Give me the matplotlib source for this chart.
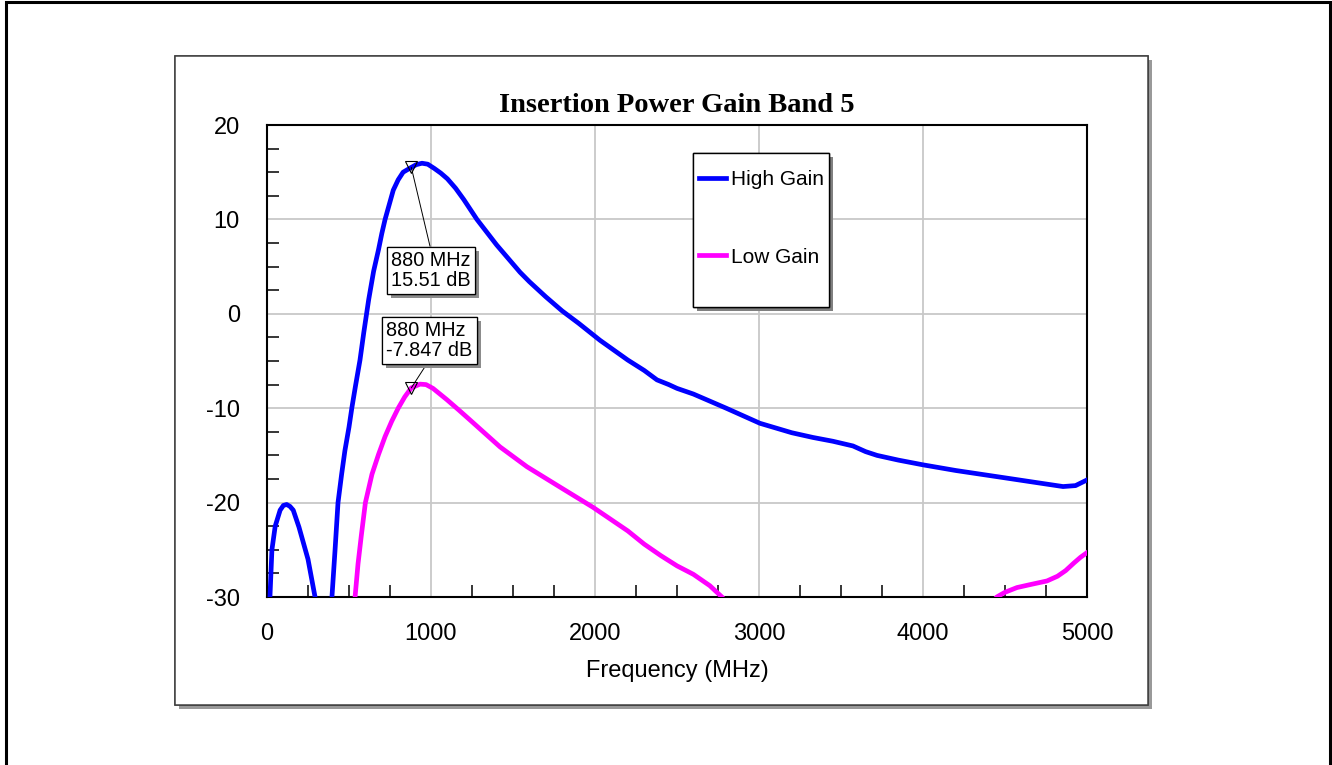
import numpy as np
import matplotlib.pyplot as plt
from matplotlib.patches import Rectangle
from matplotlib.ticker import MultipleLocator
import matplotlib.patheffects as pe

plt.rcParams['font.family'] = ['Liberation Sans', 'DejaVu Sans']
plt.rcParams['axes.unicode_minus'] = False

# High gain trace (MHz, dB)
freq_hi = [10, 18, 30, 50, 80, 100, 120, 140, 160, 195, 250, 293, 305, 385, 396, 415, 433, 455,
           475, 500, 518, 540, 567, 590, 620, 650, 680, 700, 720, 770, 800, 830, 880, 910, 945,
           980, 1020, 1060, 1100, 1150, 1200, 1280, 1400, 1543, 1600, 1700, 1800, 1900, 2030,
           2200, 2300, 2378, 2450, 2500, 2600, 2800, 3006, 3200, 3329, 3450, 3573, 3650, 3720,
           3850, 4000, 4200, 4470, 4700, 4854, 4930, 5000]
gain_hi = [-34, -30, -25.0, -22.5, -20.8, -20.3, -20.2, -20.4, -20.8, -22.6, -26.0, -30.0, -31.2,
           -31.2, -30.0, -25.0, -20.0, -17.0, -14.5, -12.0, -9.9, -7.6, -4.9, -2.0, 1.5, 4.5,
           6.8, 8.5, 10.0, 13.1, 14.2, 15.0, 15.51, 15.8, 15.95, 15.85, 15.4, 14.9, 14.3, 13.3,
           12.1, 10.0, 7.3, 4.4, 3.4, 1.8, 0.3, -1.0, -2.8, -4.9, -6.0, -7.0, -7.5, -7.9, -8.5,
           -10.0, -11.6, -12.6, -13.1, -13.5, -14.0, -14.6, -15.0, -15.5, -16.0, -16.6, -17.3,
           -17.9, -18.3, -18.2, -17.6]

# Low gain trace (MHz, dB)
freq_lo = [480, 537, 555, 575, 600, 640, 680, 720, 760, 800, 840, 880, 933, 970, 1012, 1097, 1170,
           1238, 1421, 1585, 1800, 1988, 2200, 2300, 2400, 2500, 2600, 2700, 2774, 2830, 4390,
           4450, 4500, 4573, 4650, 4756, 4820, 4870, 4920, 4960, 5000]
gain_lo = [-36, -30.0, -26.5, -23.5, -20.0, -17.0, -14.9, -13.0, -11.4, -10.0, -8.8, -7.847, -7.45,
           -7.5, -7.9, -9.1, -10.2, -11.25, -14.1, -16.2, -18.5, -20.5, -23.0, -24.4, -25.6,
           -26.7, -27.6, -28.8, -30.0, -31.2, -31.2, -30.0, -29.5, -29.0, -28.7, -28.3, -27.8,
           -27.2, -26.4, -25.8, -25.3]

# marker readouts
mark_freq = [880, 880]
mark_gain = [15.51, -7.847]
mark_text = ['880 MHz\n15.51 dB', '880 MHz\n-7.847 dB']

xticks = [0, 1000, 2000, 3000, 4000, 5000]
yticks = [-30, -20, -10, 0, 10, 20]

fig = plt.figure(figsize=(13.32, 7.65), dpi=100)
W, H = 1332, 765

# outer frame
fig.patches.append(Rectangle((6 / W, -0.02), 1324 / W, 1.02 - 2 / H, transform=fig.transFigure,
                             fill=False, ec='black', lw=2.2, zorder=-2))
# chart panel with drop shadow
panel = Rectangle((175 / W, 1 - 705 / H), 973 / W, 649 / H, transform=fig.transFigure,
                  fc='white', ec='#404040', lw=1.1, zorder=-1)
panel.set_path_effects([pe.withSimplePatchShadow(offset=(3, -3), shadow_rgbFace='0.6', alpha=1),
                        pe.Normal()])
fig.patches.append(panel)

ax = fig.add_axes([267 / W, 1 - 597 / H, 820 / W, 472 / H])
ax.plot(freq_hi, gain_hi, color='#0000ff', lw=3.4, label='High Gain', zorder=3,
        solid_joinstyle='round')
ax.plot(freq_lo, gain_lo, color='#ff00ff', lw=3.4, label='Low Gain', zorder=3,
        solid_joinstyle='round')
ax.plot(mark_freq, mark_gain, 'v', ms=9, mfc='none', mec='black', mew=0.8, zorder=4)

ax.set_xlim(0, 5000)
ax.set_ylim(-30, 20)
ax.set_xticks(xticks)
ax.set_yticks(yticks)
ax.xaxis.set_minor_locator(MultipleLocator(250))
ax.yaxis.set_minor_locator(MultipleLocator(2.5))
ax.tick_params(which='major', length=0, labelsize=17)
ax.tick_params(axis='y', which='major', pad=19.5)
ax.tick_params(axis='x', which='major', pad=19)
ax.tick_params(which='minor', direction='in', length=8.8, width=1.1, color='black')
ax.grid(True, which='major', color='#c8c8c8', lw=1.3)
ax.set_axisbelow(True)
for s in ax.spines.values():
    s.set_linewidth(1.5)

ax.set_xlabel('Frequency (MHz)', fontsize=17, labelpad=10.5)
ax.set_title('Insertion Power Gain Band 5', fontsize=20.5, fontweight='bold',
             family='Liberation Serif', pad=9)

# readout boxes
offsets = [(-20, -103), (-25, 47.5)]
relpos = [(0.5, 1.0), (0.5, 0.0)]
for f, g, t, off, rp in zip(mark_freq, mark_gain, mark_text, offsets, relpos):
    ann = ax.annotate(t, xy=(f, g), xytext=off, textcoords='offset pixels', ha='left',
                      va='center', fontsize=14.3, linespacing=1.05, zorder=6,
                      bbox=dict(boxstyle='square,pad=0.22', fc='white', ec='black', lw=0.9),
                      arrowprops=dict(arrowstyle='-', color='black', lw=0.7, shrinkA=0,
                                      shrinkB=0, relpos=rp))
    ann.get_bbox_patch().set_path_effects(
        [pe.withSimplePatchShadow(offset=(3, -3), shadow_rgbFace='0.55', alpha=1), pe.Normal()])

# legend box
lbox = Rectangle((0.5195, 0.6144), 0.1659, 0.3263, transform=ax.transAxes, fc='white',
                 ec='black', lw=1.0, zorder=5)
lbox.set_path_effects([pe.withSimplePatchShadow(offset=(3, -3), shadow_rgbFace='0.5', alpha=1),
                       pe.Normal()])
ax.add_patch(lbox)
leg = ax.legend(loc='center left', bbox_to_anchor=(0.5268, 0.8019), frameon=False, fontsize=15,
                handlelength=1.3, handletextpad=0.25, labelspacing=2.8, borderpad=0,
                borderaxespad=0)
leg.set_zorder(6)

fig.savefig('out.png', dpi=100)
